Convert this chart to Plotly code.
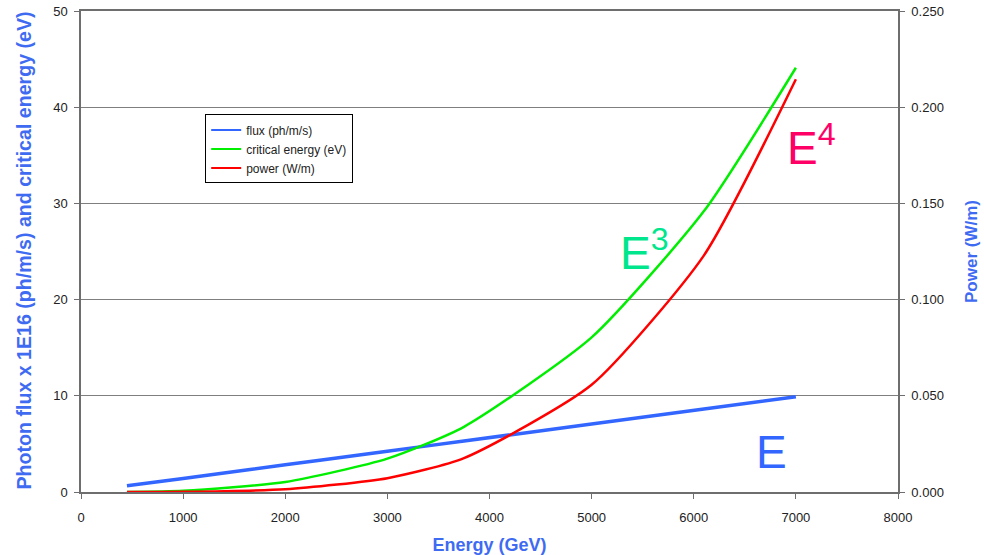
import plotly.graph_objects as go

# Beam energy (GeV) and the quantities derived at each energy
energy = [450, 1000, 2000, 3000, 3750, 5000, 6100, 7000]
flux = [0.64, 1.41, 2.83, 4.24, 5.30, 7.07, 8.63, 9.90]          # ph/m/s x 1E16
crit_energy = [0.01, 0.13, 1.03, 3.47, 6.78, 16.07, 29.2, 44.1]  # eV
power = [0.0000036, 0.00009, 0.0014, 0.0072, 0.0176, 0.0557, 0.123, 0.2145]  # W/m

x_ticks = [0, 1000, 2000, 3000, 4000, 5000, 6000, 7000, 8000]
y_ticks = [0, 10, 20, 30, 40, 50]
y2_ticks = [0.0, 0.05, 0.10, 0.15, 0.20, 0.25]

BLUE = "#3366FF"
GREEN = "#00EE00"
RED = "#FF0000"
TITLE_BLUE = "#3F6BF2"
FONT = "Liberation Sans, Arial, sans-serif"

series = [
    ("flux (ph/m/s)", flux, BLUE, 3.5, "y", 1.0),
    ("critical energy (eV)", crit_energy, GREEN, 2.5, "y", 0.6),
    ("power (W/m)", power, RED, 2.5, "y2", 0.6),
]

fig = go.Figure()
for name, values, color, width, axis, smooth in series:
    fig.add_trace(go.Scatter(x=energy, y=values, name=name, mode="lines", yaxis=axis,
                             showlegend=False,
                             line=dict(color=color, width=width, shape="spline",
                                       smoothing=smooth)))
# Legend entries use thinner sample lines
for name, values, color, width, axis, smooth in series:
    fig.add_trace(go.Scatter(x=[None], y=[None], name=name, mode="lines", yaxis=axis,
                             line=dict(color=color, width=2)))

# Scaling labels next to each curve
fig.add_annotation(x=6760, y=4.2, text="E", showarrow=False, xanchor="center",
                   font=dict(family=FONT, size=46, color=BLUE))
fig.add_annotation(x=5520, y=25.2, text="E<sup>3</sup>", showarrow=False, xanchor="center",
                   font=dict(family=FONT, size=46, color="#00E68C"))
fig.add_annotation(x=7150, y=36.1, text="E<sup>4</sup>", showarrow=False, xanchor="center",
                   font=dict(family=FONT, size=46, color="#FF0066"))

# Left axis title, placed as a rotated annotation centred on the plot height
fig.add_annotation(xref="paper", yref="paper", x=-0.0698, y=0.5, yshift=1,
                   xanchor="center", yanchor="middle", textangle=-90, showarrow=False,
                   text="<b>Photon flux x 1E16 (ph/m/s) and critical energy (eV)</b>",
                   font=dict(family=FONT, size=19.6, color=TITLE_BLUE))

axis_line = dict(showline=True, linecolor="#6E6E6E", linewidth=1.5,
                 ticks="outside", ticklen=5, tickcolor="#6E6E6E", automargin=False,
                 tickfont=dict(family=FONT, size=13, color="#222222"))

fig.update_layout(
    width=984, height=555,
    margin=dict(l=81, r=86, t=11, b=63),
    paper_bgcolor="white", plot_bgcolor="white",
    font=dict(family=FONT),
    showlegend=True,
    legend=dict(x=0.152, y=0.785, xanchor="left", yanchor="top",
                bgcolor="white", bordercolor="#000000", borderwidth=1,
                font=dict(family=FONT, size=12, color="#222222"),
                tracegroupgap=0, itemwidth=30),
    xaxis=dict(range=[0, 8000], tickvals=x_ticks, showgrid=False, zeroline=False,
               mirror=True, ticklabelstandoff=8,
               title=dict(text="<b>Energy (GeV)</b>", standoff=14,
                          font=dict(family=FONT, size=18, color=TITLE_BLUE)),
               **axis_line),
    yaxis=dict(range=[0, 50], tickvals=y_ticks, showgrid=True, gridcolor="#7F7F7F",
               gridwidth=1, zeroline=False, ticklabelstandoff=4,
               **axis_line),
    yaxis2=dict(range=[0, 0.25], tickvals=y2_ticks, tickformat=".3f", overlaying="y",
                side="right", showgrid=False, zeroline=False, ticklabelstandoff=4,
                title=dict(text="<b>Power (W/m)</b>", standoff=22,
                           font=dict(family=FONT, size=17, color=TITLE_BLUE)),
                **axis_line),
)

fig.write_html("out.html")
